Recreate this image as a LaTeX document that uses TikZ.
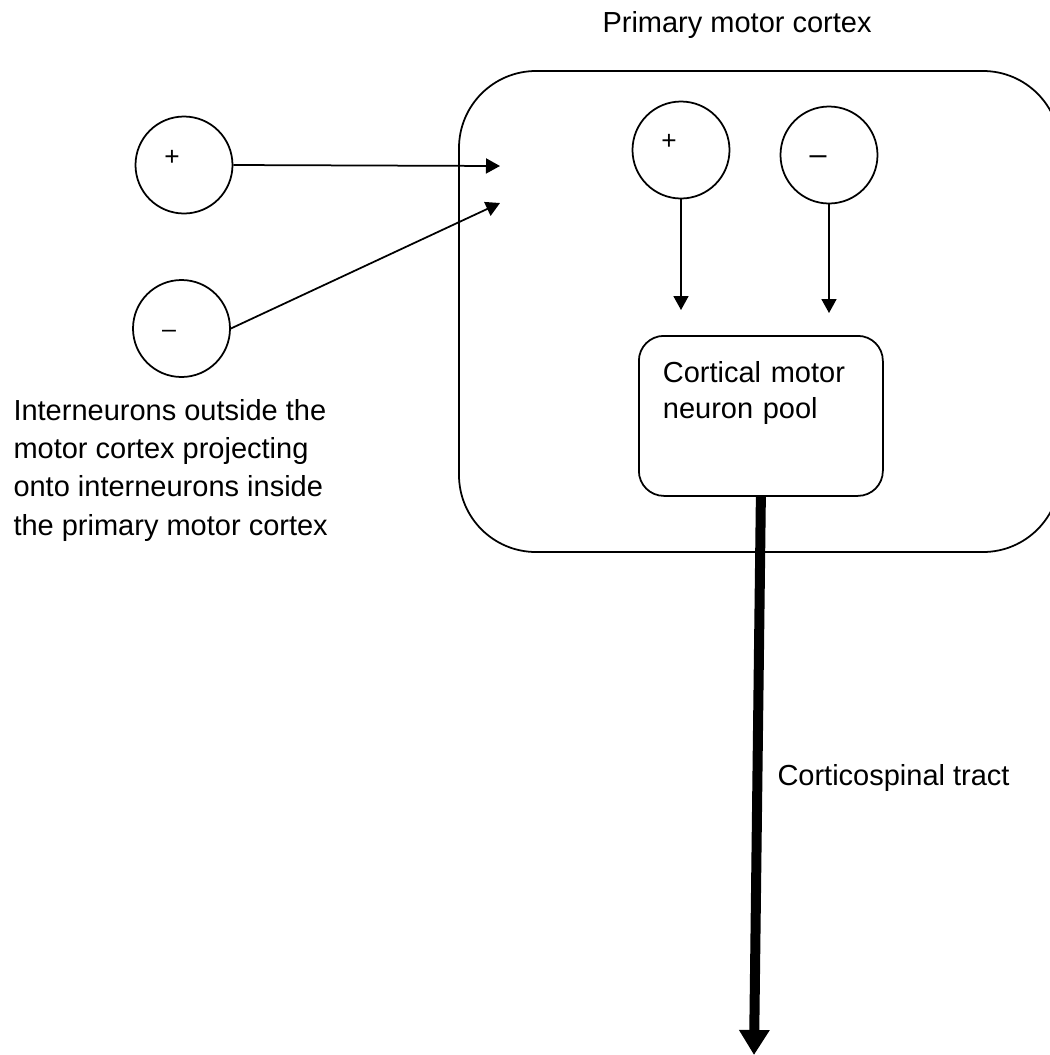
\documentclass[tikz,border=0pt]{standalone}
\usepackage{fontspec}
\setmainfont{Liberation Sans}
\usetikzlibrary{arrows.meta}

\begin{document}
\begin{tikzpicture}[x=0.4pt, y=-0.4pt,
  neuron/.style={draw, circle, line width=0.7pt, minimum size=38.8pt, inner sep=0pt},
  sign/.style={font=\fontsize{10.5}{12}\selectfont, inner sep=0pt},
  link/.style={line width=0.7pt, -{Triangle[length=5.6pt, width=6pt]}},
  tract/.style={line width=4pt, -{Triangle[length=10pt, width=11.6pt]}},
  txt/.style={font=\fontsize{11.6}{15.3}\selectfont, inner sep=0pt},
  region/.style={draw, rounded corners=30.8pt, line width=0.7pt, minimum width=240.4pt, minimum height=192.4pt, inner sep=0pt},
  pool/.style={draw, rounded corners=10pt, line width=0.7pt, text width=78.4pt, align=left,
    inner xsep=9.6pt, inner ysep=10.4pt, text height=8.4pt, text depth=34.8pt,
    font=\fontsize{11.6}{14.4}\selectfont}]
  \useasboundingbox (0,0) rectangle (1050,1055);

  % motor cortex
  \node[region] (cortex) at (759.5,311.5) {};
  \node[txt, anchor=base west] (title) at (602,32) {Primary motor cortex};

  % interneurons outside
  \node[neuron, label={[sign, xshift=-4.8pt, yshift=2.8pt]center:+}] (outplus) at (184,165) {};
  \node[neuron, label={[sign, font=\fontsize{10}{12}\selectfont, xshift=-5pt, yshift=-2.2pt]center:--}] (outminus) at (181.5,328.5) {};
  \node[txt, anchor=base west, align=left] (outside) at (13,535)
    {Interneurons outside the\\motor cortex projecting\\onto interneurons inside\\the primary motor cortex};
  \coordinate (inA) at (500,166);
  \coordinate (inB) at (500,203);
  \draw[link] (outplus.east) -- (inA);
  \draw[link] (outminus.east) -- (inB);

  % interneurons inside
  \node[neuron, label={[sign, xshift=-4.8pt, yshift=3.2pt]center:+}] (inplus) at (681,150) {};
  \node[neuron, label={[sign, font=\fontsize{12.2}{14}\selectfont, xshift=-4.4pt, yshift=-2pt]center:--}] (inminus) at (829,155) {};
  \coordinate (plusend) at (681,310);
  \coordinate (minusend) at (829,313);
  \draw[link] (inplus.south) -- (plusend);
  \draw[link] (inminus.south) -- (minusend);

  % motor neuron pool and output
  \node[pool, anchor=north west] (pool) at (638,335) {Cortical motor\\neuron pool};
  \coordinate (spine) at (754,1055);
  \draw[tract] (pool.south) -- (spine);
  \node[txt, anchor=base west] (tractlabel) at (777,785) {Corticospinal tract};
\end{tikzpicture}
\end{document}
